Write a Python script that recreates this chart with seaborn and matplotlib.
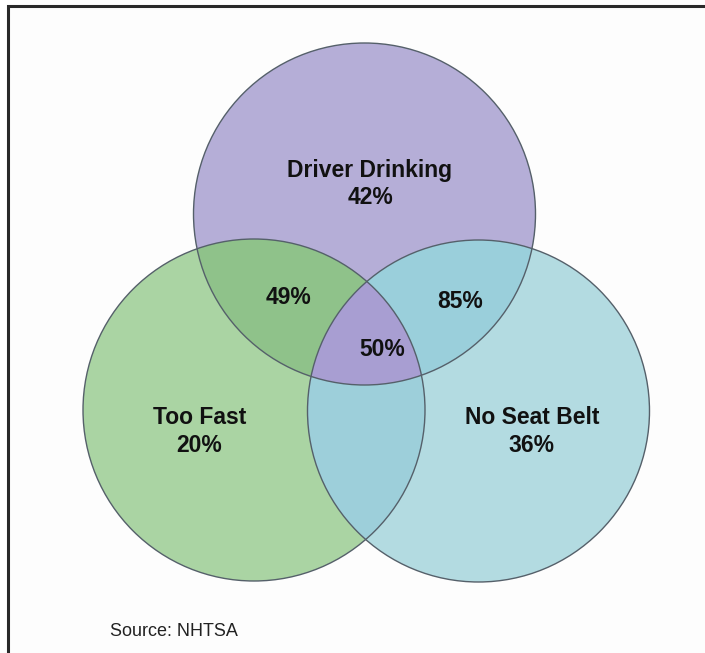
import numpy as np
import matplotlib
matplotlib.use("Agg")
import matplotlib.pyplot as plt
from matplotlib.patches import Circle, Polygon, Rectangle
import seaborn as sns

# ---- data ----
categories = ["Driver Drinking", "Too Fast", "No Seat Belt"]
single_pct = [42, 20, 36]
pair_names = ["Driver Drinking & Too Fast", "Driver Drinking & No Seat Belt"]
pair_pct = [49, 85]
triple_pct = 50
source_text = "Source: NHTSA"

sns.set_style("white")
plt.rcParams['font.family'] = ['Liberation Sans', 'DejaVu Sans']

fig = plt.figure(figsize=(7.05, 6.53), dpi=100)
fig.patch.set_facecolor("white")
ax = fig.add_axes([0, 0, 1, 1])
ax.set_xlim(0, 705)
ax.set_ylim(653, 0)
ax.axis("off")

# frame
ax.add_patch(Rectangle((8, 6), 720, 680, facecolor="#fdfdfd", edgecolor="#2a2a2a",
                       lw=2.2, zorder=0))

R = 171
centers = {"Driver Drinking": (364.5, 214), "Too Fast": (254, 410), "No Seat Belt": (478.5, 411)}
base_col = {"Driver Drinking": "#b5aed7", "Too Fast": "#aad4a3", "No Seat Belt": "#b3dbe1"}

circ = {}
for k in categories:
    c = Circle(centers[k], R, facecolor=base_col[k], edgecolor="none", zorder=1)
    ax.add_patch(c)
    circ[k] = c

def inside(pts, k):
    cx, cy = centers[k]
    return (pts[:, 0] - cx) ** 2 + (pts[:, 1] - cy) ** 2 <= R ** 2 + 1e-6

def circle_pts(k, n=1500):
    t = np.linspace(0, 2 * np.pi, n, endpoint=False)
    cx, cy = centers[k]
    return np.column_stack([cx + R * np.cos(t), cy + R * np.sin(t)])

def lens(a, b):
    pa, pb = circle_pts(a), circle_pts(b)
    pts = np.vstack([pa[inside(pa, b)], pb[inside(pb, a)]])
    m = pts.mean(axis=0)
    ang = np.arctan2(pts[:, 1] - m[1], pts[:, 0] - m[0])
    return pts[np.argsort(ang)]

# pair overlaps
pair_cols = {("Driver Drinking", "Too Fast"): "#8fc28a",
             ("Driver Drinking", "No Seat Belt"): "#9acfdb",
             ("Too Fast", "No Seat Belt"): "#9dcfda"}
for (a, b), col in pair_cols.items():
    ax.add_patch(Polygon(lens(a, b), closed=True, facecolor=col, edgecolor="none", zorder=2))

# triple overlap
tri = Polygon(lens("Too Fast", "No Seat Belt"), closed=True, facecolor="#a89ed2",
              edgecolor="none", zorder=3)
ax.add_patch(tri)
tri.set_clip_path(circ["Driver Drinking"])

for k in categories:
    ax.add_patch(Circle(centers[k], R, facecolor="none", edgecolor="#55606a", lw=1.0, zorder=4))

fs = 16.5
kw = dict(ha="center", va="center", fontsize=fs, fontweight="bold", color="#111111", zorder=5)
name_pos = {"Driver Drinking": (370, 170), "Too Fast": (200, 418), "No Seat Belt": (532, 417)}
pct_pos = {"Driver Drinking": (370, 198), "Too Fast": (199, 446), "No Seat Belt": (531, 445)}
for k, v in zip(categories, single_pct):
    ax.text(*name_pos[k], k, **kw)
    ax.text(*pct_pos[k], f"{v}%", **kw)

pair_pos = [(288, 298), (460, 301)]
for p, v in zip(pair_pos, pair_pct):
    ax.text(*p, f"{v}%", **kw)
ax.text(382, 349, f"{triple_pct}%", **kw)

ax.text(110, 632, source_text, ha="left", va="center", fontsize=13, color="#222222", zorder=5)

fig.savefig("out.png", dpi=100)
